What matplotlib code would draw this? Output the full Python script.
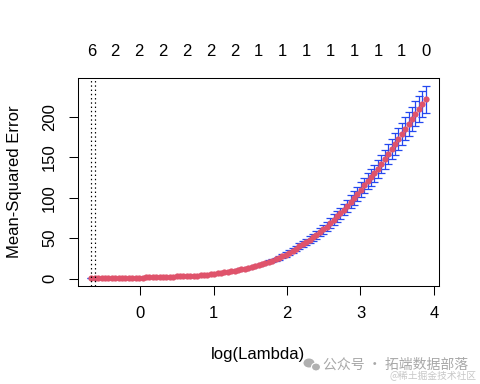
import matplotlib.pyplot as plt
import numpy as np
from matplotlib.patches import Ellipse

plt.rcParams["font.family"] = ["Liberation Sans", "DejaVu Sans"]

RED = "#DF536B"
BLUE = "#2448F0"
WM_GRAY = "#A8A8A8"

# cross-validation path: log(lambda) grid (evenly spaced, as glmnet builds it)
log_lambda = np.linspace(-0.670, 3.889, 99)

cv_mse = np.array([
    0.4, 0.4, 0.4, 0.45, 0.5, 0.5, 0.55, 0.6, 0.65, 0.7,
    0.8, 0.85, 0.95, 1.05, 1.15, 1.25, 1.35, 1.45, 1.55, 1.7,
    1.85, 2.0, 2.15, 2.3, 2.5, 2.65, 2.8, 3.0, 3.2, 3.4,
    3.6, 3.8, 4.1, 4.5, 4.9, 5.4, 5.9, 6.5, 7.1, 7.7,
    8.3, 9.0, 9.8, 10.6, 11.5, 12.3, 13.2, 14.2, 15.3, 16.5,
    17.9, 19.4, 20.9, 22.4, 23.9, 25.6, 27.6, 29.8, 32.1, 34.6,
    37.2, 39.9, 42.7, 45.5, 48.3, 51.2, 54.1, 57.3, 60.8, 64.4,
    68.6, 73.0, 77.0, 81.0, 85.5, 90.0, 95.0, 100.0, 105.0, 110.0,
    115.3, 120.5, 125.5, 130.5, 136.0, 142.0, 148.0, 154.5, 160.5, 166.5,
    172.5, 179.0, 185.5, 191.5, 198.0, 204.0, 210.0, 216.5, 222.0,
])

cv_se = np.array([
    0.05, 0.05, 0.05, 0.05, 0.05, 0.05, 0.06, 0.06, 0.07, 0.07,
    0.08, 0.09, 0.1, 0.1, 0.12, 0.13, 0.14, 0.15, 0.16, 0.17,
    0.19, 0.2, 0.22, 0.23, 0.25, 0.27, 0.28, 0.3, 0.32, 0.34,
    0.33, 0.35, 0.37, 0.41, 0.44, 0.49, 0.53, 0.59, 0.64, 0.69,
    0.75, 0.81, 0.88, 0.95, 1.03, 1.1, 1.18, 1.27, 1.37, 1.48,
    1.6, 1.74, 1.88, 2.0, 2.15, 2.3, 2.48, 2.68, 2.89, 3.1,
    3.35, 3.6, 3.85, 4.1, 4.35, 4.6, 4.87, 5.15, 5.45, 5.8,
    6.0, 6.4, 6.7, 7.0, 7.35, 7.7, 8.1, 8.5, 8.8, 9.2,
    9.6, 10.0, 10.3, 10.7, 11.0, 11.5, 11.8, 12.4, 12.7, 13.2,
    13.5, 14.0, 14.3, 14.7, 15.0, 15.5, 15.8, 16.2, 16.5,
])

idx_min, idx_1se = 0, 1

# number of non-zero coefficients, printed every 7th lambda
nzero_step = 7
nzero_labels = ["6", "2", "2", "2", "2", "2", "2", "1", "1", "1", "1", "1", "1", "1", "0"]

x_ticks = [0, 1, 2, 3, 4]
y_ticks = [0, 50, 100, 150, 200]

fig = plt.figure(figsize=(4.8, 3.84), dpi=100)
ax = fig.add_axes([78 / 480, 1 - 286 / 384, 361 / 480, 207.7 / 384])

ax.errorbar(log_lambda, cv_mse, yerr=cv_se, fmt="none", ecolor=BLUE,
            elinewidth=0.9, capsize=2.9, capthick=0.9, zorder=2)
ax.plot(log_lambda, cv_mse, "o", color=RED, ms=4.5, mew=0, zorder=3)
for i in (idx_min, idx_1se):
    ax.axvline(log_lambda[i], color="black", lw=0.85, ls=(0, (1.2, 2.4)), zorder=4)

ax.margins(x=0.04, y=0.04)
ax.set_xticks(x_ticks)
ax.set_yticks(y_ticks)
ax.tick_params(direction="out", length=6.6, width=0.75, labelsize=12, color="black")
ax.tick_params(axis="x", pad=7.5)
ax.tick_params(axis="y", pad=8.5)
for lab in ax.get_yticklabels():
    lab.set_rotation(90)
    lab.set_va("center")
for s in ax.spines.values():
    s.set_linewidth(0.75)

ax.set_xlabel("log(Lambda)", fontsize=12, va="center")
ax.xaxis.set_label_coords(0.5, (286 - 355) / 207.7)
ax.set_ylabel("Mean-Squared Error", fontsize=12, va="center")
ax.yaxis.set_label_coords((15 - 78) / 361, 0.5)

for k, lab in enumerate(nzero_labels):
    ax.annotate(lab, xy=(log_lambda[k * nzero_step], 1), xycoords=("data", "axes fraction"),
                xytext=(0, 19.4), textcoords="offset points", ha="center", va="center", fontsize=12)

# watermark
cjk = ["Noto Sans CJK SC", "DejaVu Sans"]
fig.add_artist(Ellipse((309 / 480, 1 - 363 / 384), 11 / 480, 9 / 384, transform=fig.transFigure,
                       color="#B0B0B0", lw=0))
fig.add_artist(Ellipse((316 / 480, 1 - 367 / 384), 9 / 480, 8 / 384, transform=fig.transFigure,
                       facecolor="#B0B0B0", edgecolor="white", lw=0.8))
fig.text(323 / 480, 1 - 365 / 384, "公众号 · 拓端数据部落", family=cjk, fontsize=10,
         color=WM_GRAY, ha="left", va="center")
fig.text(477 / 480, 1 - 376 / 384, "@稀土掘金技术社区", family=cjk, fontsize=7,
         color="#C8C8C8", ha="right", va="center")

fig.savefig("out.png", dpi=100, facecolor="white")
